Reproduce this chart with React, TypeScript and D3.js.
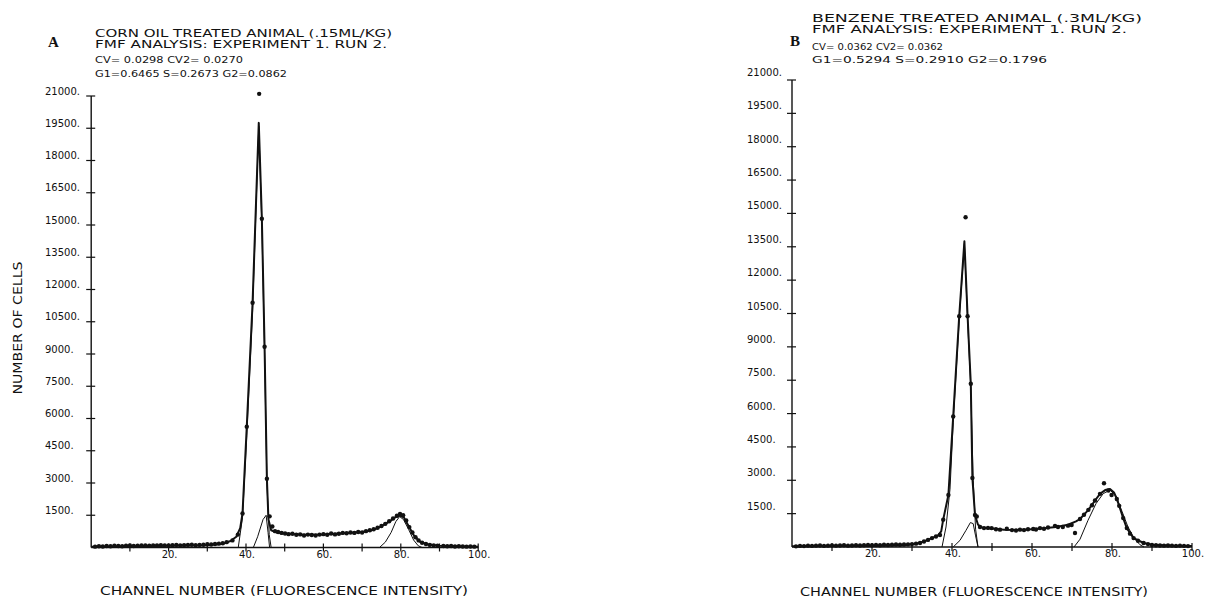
import React from "react";
import * as d3 from "d3";

// ---- tick values ----
const yTicks = [1500, 3000, 4500, 6000, 7500, 9000, 10500, 12000, 13500, 15000, 16500, 18000, 19500, 21000];
const xTicks = [10, 20, 30, 40, 50, 60, 70, 80, 90, 100];
const xLabelTicks = [20, 40, 60, 80, 100];

// ---- panel A: corn oil ----
const dotsA: [number, number][] = [
  [1, 40], [2, 60], [3, 50], [4, 70], [5, 60], [6, 80], [7, 70], [8, 60], [9, 80], [10, 90],
  [11, 70], [12, 80], [13, 90], [14, 100], [15, 80], [16, 90], [17, 100], [18, 110], [19, 90], [20, 100],
  [21, 110], [22, 120], [23, 100], [24, 110], [25, 120], [26, 130], [27, 110], [28, 120], [29, 130], [30, 150],
  [31, 140], [32, 160], [33, 180], [34, 200], [35, 250], [36.5, 330], [37.9, 600], [39.1, 1580], [40.2, 5620],
  [41.7, 11385], [43.4, 21100], [44.1, 15290], [44.8, 9340], [45.4, 3200], [46.1, 1450], [46.8, 980],
  [47.5, 760], [48.3, 720], [49.2, 680], [50.1, 650], [51, 620], [52, 640], [53, 590], [54, 610], [55, 560],
  [56, 600], [57, 580], [58, 560], [59, 600], [60, 620], [61, 590], [62, 650], [63, 610], [64, 640], [65, 680],
  [66, 660], [67, 700], [68, 680], [69, 720], [70, 700], [71, 760], [72, 800], [73, 850], [74, 920], [75, 1000],
  [76, 1100], [77, 1220], [78, 1350], [79, 1480], [79.8, 1560], [80.6, 1500], [81.4, 1260], [82.2, 950],
  [83, 700], [83.8, 480], [84.6, 330], [85.5, 220], [86.5, 160], [87.5, 120], [88.5, 100], [89.5, 80],
  [91, 70], [92, 60], [93, 70], [94, 50], [95, 60], [96, 50], [97, 40], [98, 50], [99, 40],
];
const fitA: [number, number][] = [
  [0, 40], [10, 60], [20, 80], [30, 110], [34, 170], [36, 300], [37.5, 500], [38.5, 900], [39.1, 1580],
  [40.2, 5620], [41.7, 11385], [43.3, 19750], [44.1, 15290], [44.8, 9340], [45.4, 3200], [45.8, 1300],
  [46.5, 800], [48, 700], [50, 650], [55, 590], [60, 600], [65, 660], [70, 720], [73, 830], [75, 980],
  [77, 1200], [78.5, 1400], [79.7, 1480], [80.8, 1400], [82, 1000], [83.5, 520], [85, 260], [87, 140],
  [90, 80], [95, 60], [100, 40],
];
const g1A: [number, number][] = [
  [38, 0], [39.1, 1400], [40.2, 5200], [41.7, 11000], [43.3, 19600], [44.1, 15000], [44.8, 9000],
  [45.4, 3000], [46, 600], [46.5, 0],
];
const sA: [number, number][] = [[41.9, 0], [43, 500], [44.4, 1300], [45.2, 1500], [45.7, 700], [46.1, 0]];
const g2A: [number, number][] = [
  [74.5, 0], [76, 250], [77.5, 700], [78.7, 1200], [79.7, 1440], [80.7, 1300], [82, 850], [83.3, 350],
  [84.5, 80], [85.5, 0],
];

// ---- panel B: benzene ----
const dotsB: [number, number][] = [
  [1, 30], [2, 50], [3, 40], [4, 60], [5, 50], [6, 60], [7, 70], [8, 50], [9, 60], [10, 70],
  [11, 60], [12, 70], [13, 80], [14, 60], [15, 70], [16, 80], [17, 70], [18, 80], [19, 90], [20, 80],
  [21, 90], [22, 80], [23, 100], [24, 90], [25, 100], [26, 110], [27, 100], [28, 110], [29, 120], [30, 130],
  [31, 150], [32, 180], [33, 250], [34, 320], [35, 400], [36, 470], [37, 540], [37.8, 1230], [39.1, 2340],
  [40.3, 5870], [41.8, 10375], [43.4, 14830], [43.9, 10375], [44.7, 7340], [45.1, 3100], [45.75, 1440],
  [46.2, 1370], [47, 900], [48, 850], [49, 860], [49.9, 850], [51, 800], [52, 780], [53.7, 820], [55, 760],
  [56, 740], [57, 780], [58, 760], [59, 800], [60.3, 810], [61, 790], [62, 850], [63, 820], [64, 880],
  [65.75, 950], [66.5, 900], [67.7, 900], [69, 960], [69.9, 990], [70.75, 630], [72, 1260], [73, 1450],
  [74.1, 1670], [75, 1880], [75.75, 2090], [77, 2390], [78, 2870], [79.1, 2540], [79.9, 2340], [81.2, 2160],
  [81.8, 1850], [82.8, 1300], [83.7, 850], [84.5, 600], [85.4, 400], [86.5, 280], [87.9, 180], [89, 130],
  [90, 90], [91, 80], [92, 70], [93, 60], [94, 70], [95, 60], [96, 50], [97, 60], [98, 50], [99, 40],
];
const fitB: [number, number][] = [
  [0, 30], [10, 40], [20, 50], [28, 80], [31, 150], [33, 250], [35, 400], [36.5, 520], [37.3, 700],
  [37.8, 1230], [39.1, 2340], [40.3, 5870], [41.8, 10375], [43.1, 13750], [43.9, 10375], [44.7, 7340],
  [45.1, 3100], [45.75, 1440], [46.5, 1000], [47.5, 880], [50, 830], [53, 780], [56, 760], [60, 800],
  [63, 840], [66, 900], [69, 1000], [71, 1150], [72, 1260], [74.1, 1670], [75.75, 2090], [77, 2390],
  [78.3, 2560], [79.5, 2610], [80.5, 2450], [81.2, 2160], [81.8, 1850], [82.8, 1300], [83.7, 850],
  [85.4, 400], [87.9, 180], [90, 100], [95, 60], [100, 40],
];
const g1B: [number, number][] = [
  [37.5, 0], [38.5, 900], [39.5, 2600], [40.3, 5600], [41.8, 10200], [43.1, 13650], [43.9, 10200],
  [44.7, 7100], [45.3, 3000], [45.9, 800], [46.5, 0],
];
const sB: [number, number][] = [[40.3, 0], [42, 300], [43.5, 750], [44.6, 1100], [45.3, 1050], [45.9, 500], [46.5, 0]];
const g2B: [number, number][] = [
  [70.5, 0], [72, 350], [74, 1200], [76, 1950], [77.8, 2400], [79.5, 2560], [81, 2300], [82.5, 1600],
  [84, 900], [85.5, 400], [87, 100], [88, 0],
];

type Pt = [number, number];

interface PanelProps {
  x0: number; x1: number; yBase: number; yTop: number;
  labelX: number; labelDy: number;
  dots: Pt[]; fit: Pt[]; comps: Pt[][];
}

const FONT = "'DejaVu Sans', sans-serif";

function Panel({ x0, x1, yBase, yTop, labelX, labelDy, dots, fit, comps }: PanelProps) {
  const x = d3.scaleLinear().domain([0, 100]).range([x0, x1]);
  const y = d3.scaleLinear().domain([0, 21000]).range([yBase, yTop]);
  const line = d3.line<Pt>().x((d) => x(d[0])).y((d) => y(d[1]));
  return (
    <g>
      {/* axes */}
      <line x1={x(0)} y1={y(0)} x2={x(0)} y2={y(21000)} stroke="#111" strokeWidth={1.4} />
      <line x1={x(0)} y1={y(0)} x2={x(100)} y2={y(0)} stroke="#111" strokeWidth={1.6} />
      {yTicks.map((t) => (
        <g key={"y" + t}>
          <line x1={x(0) - 5} x2={x(0) + 4} y1={y(t)} y2={y(t)} stroke="#111" strokeWidth={1.2} />
          <text x={labelX} y={y(t) + labelDy} fontFamily={FONT} fontSize={10} fill="#111">{t + "."}</text>
        </g>
      ))}
      {xTicks.map((t) => (
        <line key={"x" + t} x1={x(t)} x2={x(t)} y1={y(0) - 4} y2={y(0) + 4} stroke="#111" strokeWidth={1.2} />
      ))}
      {xLabelTicks.map((t) => (
        <text key={"xl" + t} x={x(t) + 1} y={y(0) + 10} textAnchor="middle" fontFamily={FONT} fontSize={10} fill="#111">{t + "."}</text>
      ))}
      {/* component curves */}
      {comps.map((c, i) => (
        <path key={"c" + i} d={line(c) || ""} fill="none" stroke="#111" strokeWidth={1} />
      ))}
      {/* total fit */}
      <path d={line(fit) || ""} fill="none" stroke="#111" strokeWidth={2} strokeLinejoin="round" />
      {/* observed histogram */}
      {dots.map((d, i) => (
        <circle key={"d" + i} cx={x(d[0])} cy={y(d[1])} r={2.2} fill="#111" />
      ))}
    </g>
  );
}

export default function App() {
  return (
    <svg width={1208} height={599} style={{ position: "absolute", left: 0, top: 0, background: "#fff" }}>
      <rect width={1208} height={599} fill="#fff" />
      {/* panel A */}
      <text x={48} y={47} fontFamily="'Liberation Serif', serif" fontWeight="bold" fontSize={15} fill="#111">A</text>
      <g fontFamily={FONT} fill="#111">
        <text x={95} y={36.5} fontSize={10.5} textLength={297} lengthAdjust="spacingAndGlyphs">CORN OIL  TREATED ANIMAL  (.15ML/KG)</text>
        <text x={95} y={48} fontSize={10.5} textLength={292} lengthAdjust="spacingAndGlyphs">FMF ANALYSIS: EXPERIMENT 1. RUN 2.</text>
        <text x={95} y={63} fontSize={9.5} textLength={148} lengthAdjust="spacingAndGlyphs">CV= 0.0298   CV2= 0.0270</text>
        <text x={95} y={77} fontSize={9.5} textLength={192} lengthAdjust="spacingAndGlyphs">G1=0.6465 S=0.2673 G2=0.0862</text>
      </g>
      <text transform="translate(22,328) rotate(-90)" textAnchor="middle" fontFamily={FONT} fontSize={12} fill="#111" textLength={133} lengthAdjust="spacingAndGlyphs">NUMBER OF CELLS</text>
      <Panel x0={91.2} x1={478.2} yBase={547.5} yTop={96} labelX={45} labelDy={-1.5}
        dots={dotsA} fit={fitA} comps={[g1A, sA, g2A]} />
      <text x={100} y={595} fontFamily={FONT} fontSize={12.5} fill="#111" textLength={368} lengthAdjust="spacingAndGlyphs">CHANNEL NUMBER (FLUORESCENCE INTENSITY)</text>

      {/* panel B */}
      <text x={790} y={46} fontFamily="'Liberation Serif', serif" fontWeight="bold" fontSize={15} fill="#111">B</text>
      <g fontFamily={FONT} fill="#111">
        <text x={812} y={21.5} fontSize={10.5} textLength={330} lengthAdjust="spacingAndGlyphs">BENZENE TREATED ANIMAL  (.3ML/KG)</text>
        <text x={812} y={33} fontSize={10.5} textLength={315} lengthAdjust="spacingAndGlyphs">FMF ANALYSIS: EXPERIMENT 1. RUN 2.</text>
        <text x={812} y={50} fontSize={9.5} textLength={131} lengthAdjust="spacingAndGlyphs">CV= 0.0362   CV2= 0.0362</text>
        <text x={812} y={63} fontSize={9.5} textLength={235} lengthAdjust="spacingAndGlyphs">G1=0.5294 S=0.2910 G2=0.1796</text>
      </g>
      <Panel x0={792} x1={1192} yBase={547} yTop={80} labelX={747} labelDy={-4}
        dots={dotsB} fit={fitB} comps={[g1B, sB, g2B]} />
      <text x={800} y={596} fontFamily={FONT} fontSize={12.5} fill="#111" textLength={348} lengthAdjust="spacingAndGlyphs">CHANNEL NUMBER (FLUORESCENCE INTENSITY)</text>
    </svg>
  );
}
